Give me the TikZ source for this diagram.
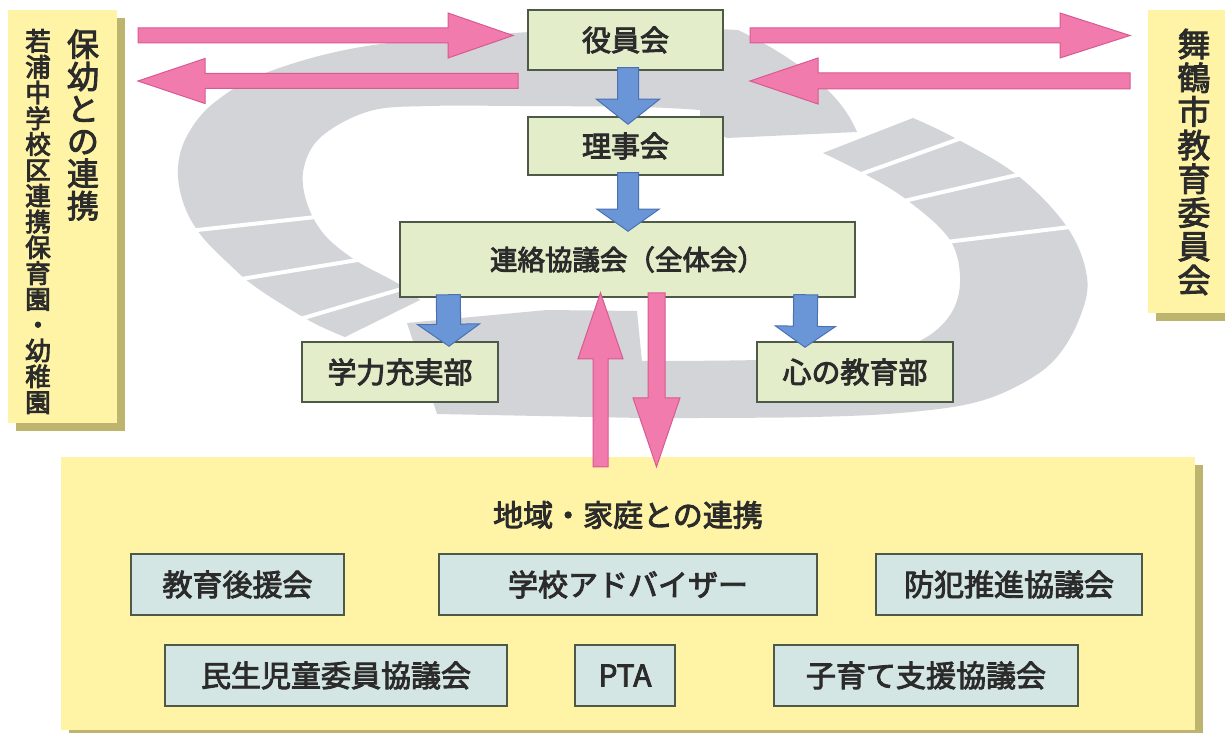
\documentclass[tikz,border=0pt]{standalone}
\usepackage{fontspec}
\setmainfont{Noto Sans CJK JP}
\usetikzlibrary{calc,shadows}
\newcommand\jfs[2]{\fontsize{#1bp}{#2bp}\selectfont}
\newcommand\heavyon{\special{pdf:literal direct 2 Tr 0.9 w}}
\newcommand\heavyoff{\special{pdf:literal direct 0 Tr 0.4 w}}
\definecolor{ringgray}{HTML}{D2D4D7}
\definecolor{pinkf}{HTML}{F27BAE}
\definecolor{pinkd}{HTML}{D85A92}
\definecolor{bluef}{HTML}{6A96D8}
\definecolor{blued}{HTML}{4A72B2}
\definecolor{greenf}{HTML}{E3EDC9}
\definecolor{boxline}{HTML}{4E5A48}
\definecolor{tealf}{HTML}{D4E6E3}
\definecolor{yellowf}{HTML}{FFF4A6}
\definecolor{shadowc}{HTML}{BDB46E}
\definecolor{txt}{HTML}{2B2B2B}
\newcommand\blkarrow[6]{%
  \coordinate (bab) at ($(#2)!#5!(#1)$);
  \filldraw[#6] ($(#1)!#3!90:(#2)$) -- ($(bab)!#3!-90:(#1)$) -- ($(bab)!#4!-90:(#1)$) -- (#2) -- ($(bab)!#4!90:(#1)$) -- ($(bab)!#3!90:(#1)$) -- ($(#1)!#3!-90:(#2)$) -- cycle;}
\begin{document}
\begin{tikzpicture}[x=1bp,y=-1bp,
  every node/.style={text=txt},
  label text/.style={execute at begin node=\heavyon, execute at end node=\heavyoff},
  greenbox/.style={draw=boxline,line width=1.5bp,fill=greenf,inner sep=0pt,font=\jfs{29}{30},label text},
  tealbox/.style={draw=boxline,line width=1.5bp,fill=tealf,inner sep=0pt,font=\jfs{30}{31},minimum height=61bp,label text},
  yellowbox/.style={fill=yellowf,inner sep=0pt,general shadow={fill=shadowc,shadow xshift=8bp,shadow yshift=-8bp}},
  vtext/.style={align=center,inner sep=0pt,label text},
  pinkarrow/.style={fill=pinkf,draw=pinkd,line width=1bp},
  bluearrow/.style={fill=bluef,draw=blued,line width=1bp},
  ring/.style={fill=ringgray},
  stripe/.style={draw=white,line width=4bp}
]
\useasboundingbox (0,0) rectangle (1225,733);
\clip (0,0) rectangle (1225,733);
\fill[white] (0,0) rectangle (1225,733);

% ---- gray cycle ring ----
\fill[ring] plot[smooth,tension=0.6] coordinates {(345,337) (310,321) (257,288) (229,264) (200,234) (183,202) (178,167) (188,134) (215,102) (268,72) (367,46) (514,33) (620,29) (700,28)}
  -- plot[smooth,tension=0.6] coordinates {(700,110) (640,107) (520,106) (430,106) (370,111) (322,136) (304,167) (306,200) (323,233) (355,260) (397,283) (420,300)} -- cycle;
\fill[ring] (700,28) -- (738,30) .. controls (790,55) and (840,90) .. (857,132) -- (727,138) -- (700,125) -- cycle;
\fill[ring] plot[smooth,tension=0.6] coordinates {(913,118) (953,137) (1017,175) (1067,227) (1087,277) (1080,317) (1057,357) (1023,383) (973,403) (900,413) (813,417) (700,418) (640,418)}
  -- plot[smooth,tension=0.6] coordinates {(640,361) (757,360) (860,355) (915,343) (948,318) (960,283) (950,240) (907,200) (863,173) (823,153)} -- cycle;
\fill[ring] (642,362) -- (637,311) -- (547,310) -- (407,323) -- (437,414) -- (642,418) -- cycle;
\draw[stripe] (170,233) -- (325,216);
\draw[stripe] (235,280) -- (370,258);
\draw[stripe] (290,322) -- (415,285);
\draw[stripe] (850,178) -- (970,135);
\draw[stripe] (895,203) -- (1030,172);
\draw[stripe] (938,243) -- (1095,224);

% ---- side boxes ----
\node[yellowbox,minimum width=109bp,minimum height=413bp] (leftbox) at (62.5,216.5) {};
\node[vtext,font=\jfs{32}{32.3}] (hoyo) at (83,125) {保\\幼\\と\\の\\連\\携};
\node[vtext,font=\jfs{25.5}{25.8}] (wakaura) at (38,221.5) {若\\浦\\中\\学\\校\\区\\連\\携\\保\\育\\園\\・\\幼\\稚\\園};
\node[yellowbox,minimum width=84bp,minimum height=303bp] (rightbox) at (1190,161.5) {};
\node[vtext,font=\jfs{33}{33.7}] (maizuru) at (1194,162) {舞\\鶴\\市\\教\\育\\委\\員\\会};

% ---- horizontal pink arrows ----
\coordinate (pla) at (138,35.5);  \coordinate (plb) at (513,35.5);
\coordinate (plc) at (518,81);    \coordinate (pld) at (138,81);
\coordinate (pra) at (750,35.5);  \coordinate (prb) at (1130,35.5);
\coordinate (prc) at (1130,81);   \coordinate (prd) at (750,81);
\blkarrow{pla}{plb}{7.5bp}{22.5bp}{65bp}{pinkarrow}
\blkarrow{plc}{pld}{7.5bp}{22.5bp}{67bp}{pinkarrow}
\blkarrow{pra}{prb}{7.5bp}{22.5bp}{70bp}{pinkarrow}
\blkarrow{prc}{prd}{8bp}{23bp}{68bp}{pinkarrow}

% ---- central boxes ----
\node[greenbox,minimum width=195bp,minimum height=60bp] (yakuin) at (625.5,40) {役員会};
\node[greenbox,minimum width=195bp,minimum height=58bp] (rijikai) at (625.5,146) {理事会};
\node[greenbox,minimum width=455bp,minimum height=75bp,font=\jfs{27.5}{28}] (renraku) at (627.5,259.5) {連絡協議会（全体会）};
\node[greenbox,minimum width=196bp,minimum height=60bp] (gakuryoku) at (400,372) {学力充実部};
\node[greenbox,minimum width=196bp,minimum height=60bp] (kokoro) at (855,372) {心の教育部};

% ---- bottom region ----
\node[yellowbox,minimum width=1134bp,minimum height=273bp] (chiiki) at (628,593.5) {};
\node[font=\jfs{30}{31},inner sep=0pt,label text] (chiikiT) at (628,515) {地域・家庭との連携};
\node[tealbox,minimum width=213bp] (kouenkai) at (237.5,584.5) {教育後援会};
\node[tealbox,minimum width=378bp] (adviser) at (628,584.5) {学校アドバイザー};
\node[tealbox,minimum width=266bp] (bohan) at (1009,584.5) {防犯推進協議会};
\node[tealbox,minimum width=342bp] (minsei) at (336,675.5) {民生児童委員協議会};
\node[tealbox,minimum width=100bp] (pta) at (625,675.5) {PTA};
\node[tealbox,minimum width=304bp] (kosodate) at (926,675.5) {子育て支援協議会};

% ---- blue arrows ----
\coordinate (b1s) at ($(yakuin.south)+(2.5,-3)$);      \coordinate (b1e) at ($(rijikai.north)+(2.5,8)$);
\coordinate (b2s) at ($(rijikai.south)+(2.5,-3)$);     \coordinate (b2e) at ($(renraku.north)+(0.5,10)$);
\coordinate (b3s) at ($(renraku.south west)+(49,-3)$); \coordinate (b3e) at ($(gakuryoku.north)+(49,5)$);
\coordinate (b4s) at ($(renraku.south east)+(-50,-3)$);\coordinate (b4e) at ($(kokoro.north)+(-50,6)$);
\blkarrow{b1s}{b1e}{10.5bp}{31.5bp}{25bp}{bluearrow}
\blkarrow{b2s}{b2e}{10.5bp}{31bp}{22bp}{bluearrow}
\blkarrow{b3s}{b3e}{12bp}{31bp}{22bp}{bluearrow}
\blkarrow{b4s}{b4e}{12bp}{30bp}{21bp}{bluearrow}

% ---- vertical pink arrows ----
\coordinate (vus) at ($(chiiki.north)+(-27.5,10)$); \coordinate (vue) at ($(renraku.south)+(-27,-5)$);
\coordinate (vds) at ($(renraku.south)+(29,-5)$);   \coordinate (vde) at ($(chiiki.north)+(28.5,10)$);
\blkarrow{vus}{vue}{7.5bp}{22.5bp}{66bp}{pinkarrow}
\blkarrow{vds}{vde}{8.5bp}{23.5bp}{69bp}{pinkarrow}
\end{tikzpicture}
\end{document}
